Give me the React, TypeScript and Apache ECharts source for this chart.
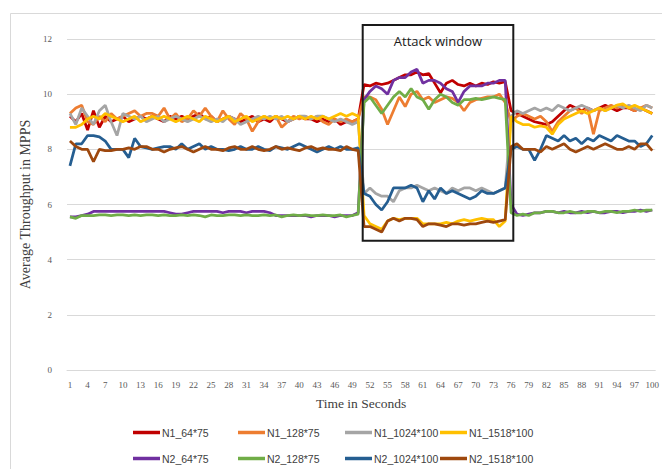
import React, { useEffect, useRef } from "react";
import * as echarts from "echarts";

const categories: string[] = Array.from({ length: 100 }, (_, i) => String(i + 1));

const yTicks = { min: 0, max: 12, interval: 2 };

const seriesNames = [
  "N1_64*75",
  "N1_128*75",
  "N1_1024*100",
  "N1_1518*100",
  "N2_64*75",
  "N2_128*75",
  "N2_1024*100",
  "N2_1518*100",
];

const seriesColors = [
  "#C00000",
  "#ED7D31",
  "#A5A5A5",
  "#FFC000",
  "#7030A0",
  "#70AD47",
  "#255E91",
  "#9E480E",
];

const n1_64 = [
  9.2, 9.0, 9.3, 8.7, 9.4, 8.8, 9.2, 9.0, 9.1, 9.2,
  9.0, 9.1, 9.2, 9.1, 9.2, 9.1, 9.0, 9.2, 9.1, 9.2,
  9.1, 9.2, 9.3, 9.1, 9.2, 9.0, 9.1, 9.2, 9.1, 9.0,
  9.1, 9.2, 9.0, 9.1, 9.0, 9.2, 9.1, 9.0, 9.1, 9.2,
  9.1, 9.1, 9.0, 9.1, 9.0, 9.1, 8.9, 9.0, 9.0, 9.1,
  10.35, 10.3, 10.4, 10.35, 10.4, 10.5, 10.6, 10.7, 10.7, 10.8,
  10.7, 10.75, 10.4, 10.05, 10.4, 10.5, 10.35, 10.3, 10.4, 10.3,
  10.4, 10.35, 10.45, 10.4, 10.45, 9.4, 9.3, 9.2, 9.1, 9.0,
  8.95, 8.9, 9.0, 9.2, 9.4, 9.6, 9.5, 9.4, 9.5, 9.4,
  9.5, 9.6, 9.5, 9.4, 9.5, 9.5, 9.4, 9.5, 9.4, 9.3,
];

const n1_128 = [
  9.3, 9.5, 9.6, 9.0, 8.9, 9.2, 9.0, 9.3, 9.1, 9.2,
  9.3, 9.4, 9.2, 9.3, 9.3, 9.2, 9.5, 9.1, 9.3, 9.0,
  9.1, 9.4, 9.2, 9.5, 9.2, 9.0, 9.4, 9.1, 8.9, 9.3,
  9.1, 8.65, 9.0, 9.2, 9.1, 9.2, 8.8, 9.0, 9.2, 9.1,
  9.2, 9.1, 9.2, 9.0, 8.9, 9.1, 9.0, 9.1, 9.0, 9.1,
  9.9, 9.9, 9.8, 9.45, 8.9, 9.4, 9.9, 9.55, 10.0, 10.1,
  9.8, 9.9, 9.7, 9.8, 9.9, 9.85, 9.7, 9.4, 9.7, 9.8,
  9.85, 9.9, 9.9, 10.0, 9.7, 9.0, 9.2, 9.3, 9.2, 9.1,
  9.2, 9.0, 8.65, 9.0, 9.2, 9.4, 9.5, 9.3, 9.5, 8.55,
  9.4, 9.5, 9.6, 9.5, 9.6, 9.5, 9.4, 9.5, 9.6, 9.5,
];

const n1_1024 = [
  9.3, 8.9, 9.5, 9.2, 8.9, 9.4, 9.6, 9.0, 8.5, 9.3,
  9.2, 9.1, 9.2, 9.0, 9.1, 9.2, 9.0, 9.1, 9.2, 9.1,
  9.0, 9.1, 9.2, 9.1, 9.0, 9.1, 9.0, 9.2, 9.1, 8.9,
  9.0, 9.1, 9.2, 9.1, 9.2, 9.1, 9.2, 9.0, 9.1, 9.2,
  9.2, 9.1, 9.2, 9.2, 9.1, 9.0, 9.1, 9.0, 8.9, 9.0,
  6.4, 6.6, 6.4, 6.3, 6.3, 6.1, 6.5, 6.6, 6.6, 6.7,
  6.6, 6.5, 6.6, 6.5, 6.4, 6.6, 6.5, 6.6, 6.6, 6.5,
  6.6, 6.5, 6.4, 6.5, 6.6, 9.2, 9.4, 9.3, 9.4, 9.5,
  9.4, 9.5, 9.4, 9.6, 9.5, 9.4, 9.5, 9.6, 9.5, 9.4,
  9.5, 9.4, 9.5, 9.6, 9.5, 9.6, 9.5, 9.4, 9.6, 9.5,
];

const n1_1518 = [
  8.8, 8.8, 8.9, 9.1, 9.2, 9.1, 9.3, 9.2, 9.1, 9.0,
  9.1, 9.2, 9.0, 9.1, 9.2, 9.1, 9.2, 9.1, 9.0, 9.1,
  9.2, 9.1, 9.0, 9.2, 9.1, 9.0, 9.1, 9.2, 9.0, 9.1,
  9.2, 9.0, 9.1, 9.2, 9.1, 9.2, 9.1, 9.2, 9.1, 9.2,
  9.1, 9.2, 9.1, 9.2, 9.1, 9.2, 9.3, 9.2, 9.3, 9.2,
  5.6, 5.3, 5.2, 5.1, 5.4, 5.5, 5.45, 5.5, 5.5, 5.5,
  5.3, 5.3, 5.3, 5.3, 5.35, 5.3, 5.4, 5.45, 5.4, 5.45,
  5.5, 5.45, 5.45, 5.2, 5.4, 9.2, 9.0, 8.9, 8.9, 8.8,
  8.85, 8.8, 8.55, 8.9, 9.1, 9.2, 9.3, 9.4, 9.3, 9.4,
  9.5, 9.4, 9.5, 9.6, 9.65, 9.5, 9.6, 9.5, 9.4, 9.3,
];

const n2_64 = [
  5.55, 5.55, 5.6, 5.65, 5.75, 5.75, 5.75, 5.75, 5.75, 5.75,
  5.75, 5.75, 5.75, 5.75, 5.75, 5.75, 5.75, 5.7, 5.65, 5.65,
  5.7, 5.75, 5.75, 5.75, 5.75, 5.75, 5.7, 5.75, 5.75, 5.75,
  5.7, 5.75, 5.75, 5.75, 5.7, 5.6, 5.6, 5.6, 5.6, 5.6,
  5.6, 5.55, 5.6, 5.6, 5.6, 5.55, 5.6, 5.6, 5.6, 5.7,
  9.8, 10.1, 10.3, 10.2, 10.0, 10.5, 10.6, 10.6, 10.8, 10.9,
  10.4, 10.5, 10.5, 10.4, 10.2, 10.1, 9.7, 10.1, 10.3, 10.3,
  10.3, 10.4, 10.4, 10.5, 10.5, 6.0, 5.65, 5.6, 5.65, 5.7,
  5.7, 5.75, 5.75, 5.7, 5.75, 5.7, 5.7, 5.75, 5.7, 5.75,
  5.7, 5.7, 5.75, 5.75, 5.7, 5.75, 5.75, 5.8, 5.75, 5.8,
];

const n2_128 = [
  5.55, 5.5, 5.6, 5.6, 5.6, 5.62, 5.62, 5.6, 5.62, 5.62,
  5.6, 5.62, 5.6, 5.62, 5.62, 5.6, 5.62, 5.6, 5.6, 5.62,
  5.6, 5.62, 5.6, 5.55, 5.62, 5.6, 5.6, 5.62, 5.62, 5.6,
  5.62, 5.6, 5.6, 5.62, 5.6, 5.62, 5.55, 5.6, 5.62, 5.6,
  5.62, 5.6, 5.6, 5.62, 5.6, 5.6, 5.62, 5.55, 5.6, 5.65,
  9.7, 9.9, 9.6, 9.3, 9.6, 9.9, 10.1, 9.9, 10.2, 9.9,
  9.8, 9.45, 9.8, 10.0, 9.9, 9.7, 9.6, 9.8, 9.8, 9.85,
  9.8, 9.85, 9.9, 9.85, 9.8, 5.7, 5.6, 5.65, 5.6, 5.7,
  5.7, 5.75, 5.75, 5.7, 5.7, 5.75, 5.7, 5.7, 5.75, 5.75,
  5.7, 5.75, 5.75, 5.7, 5.75, 5.75, 5.8, 5.75, 5.8, 5.8,
];

const n2_1024 = [
  7.4, 8.2, 8.2, 8.5, 8.5, 8.45, 8.3, 8.0, 8.0, 8.0,
  7.7, 8.4, 8.1, 8.05, 8.0, 8.05, 8.1, 8.1, 8.0, 8.2,
  8.0, 8.1, 8.2, 8.0, 8.1, 8.0, 8.0, 7.95, 8.0, 8.1,
  8.0, 8.0, 8.1, 8.0, 7.95, 8.1, 8.05, 8.0, 8.1, 8.2,
  8.1, 8.0, 7.9, 8.0, 8.1, 8.0, 8.1, 8.0, 8.0, 8.05,
  6.4, 6.3, 6.0, 5.8, 6.1, 6.6, 6.6, 6.6, 6.7, 6.6,
  6.1, 6.5, 6.2, 6.6, 6.4, 6.5, 6.4, 6.3, 6.2, 6.3,
  6.5, 6.4, 6.4, 6.5, 6.6, 8.0, 8.1, 8.0, 8.0, 7.6,
  8.0, 8.5, 8.4, 8.3, 8.5, 8.3, 8.4, 8.2, 8.4, 8.3,
  8.5, 8.4, 8.3, 8.5, 8.4, 8.3, 8.3, 8.1, 8.2, 8.5,
];

const n2_1518 = [
  8.3, 8.1, 8.0, 8.0, 7.55, 8.0, 7.95, 7.95, 8.0, 8.0,
  8.05, 8.0, 8.1, 8.1, 8.0, 8.0, 7.9, 8.0, 8.05, 8.1,
  8.0, 7.9, 8.0, 8.1, 8.0, 8.0, 7.95, 8.05, 8.1, 8.0,
  8.0, 8.1, 8.0, 7.95, 8.0, 8.1, 8.0, 8.05, 8.0, 7.95,
  8.05, 8.1, 8.0, 8.05, 8.0, 8.0, 7.95, 8.1, 8.0, 7.95,
  5.2, 5.2, 5.1, 5.0, 5.4, 5.5, 5.4, 5.5, 5.5, 5.45,
  5.2, 5.3, 5.3, 5.25, 5.2, 5.3, 5.3, 5.25, 5.3, 5.3,
  5.35, 5.4, 5.35, 5.4, 5.45, 8.1, 8.2, 8.0, 8.0, 8.0,
  7.9, 8.1, 8.0, 8.1, 8.2, 8.0, 7.9, 8.0, 8.1, 8.0,
  8.1, 8.2, 8.1, 8.0, 8.0, 8.1, 8.0, 8.2, 8.2, 7.95,
];

const seriesData = [n1_64, n1_128, n1_1024, n1_1518, n2_64, n2_128, n2_1024, n2_1518];

const legendLefts = [133, 238, 345, 440];
const legendTops = [427, 453];

export default function App() {
  const ref = useRef<HTMLDivElement>(null);

  useEffect(() => {
    if (!ref.current) return;
    const chart = echarts.init(ref.current, undefined, { renderer: "svg" });

    const legends = seriesNames.map((name, i) => ({
      show: true,
      left: legendLefts[i % 4],
      top: legendTops[Math.floor(i / 4)],
      orient: "horizontal",
      icon: "rect",
      itemWidth: 27,
      itemHeight: 3.5,
      itemGap: 0,
      padding: 0,
      selectedMode: false,
      data: [name],
      textStyle: {
        color: "#404040",
        fontSize: 10.5,
        fontFamily: "Liberation Sans, Arial, sans-serif",
        padding: [0, 0, 0, -3],
      },
    }));

    chart.setOption({
      animation: false,
      backgroundColor: "#ffffff",
      color: seriesColors,
      grid: { left: 67, right: 4, top: 39, bottom: 99, containLabel: false },
      legend: legends,
      xAxis: {
        type: "category",
        data: categories,
        boundaryGap: true,
        name: "Time in Seconds",
        nameLocation: "middle",
        nameGap: 26,
        nameTextStyle: {
          color: "#404040",
          fontSize: 13.5,
          fontFamily: "Liberation Serif, Times New Roman, serif",
        },
        axisLine: { show: true, lineStyle: { color: "#d9d9d9", width: 1 } },
        axisTick: { show: false },
        axisLabel: {
          interval: 2,
          color: "#595959",
          fontSize: 9,
          margin: 10,
          fontFamily: "Liberation Serif, Times New Roman, serif",
          hideOverlap: false,
        },
        splitLine: { show: false },
      },
      yAxis: {
        type: "value",
        min: yTicks.min,
        max: yTicks.max,
        interval: yTicks.interval,
        name: "Average Throughput in MPPS",
        nameLocation: "middle",
        nameGap: 30,
        nameTextStyle: {
          color: "#404040",
          fontSize: 14,
          fontFamily: "Liberation Serif, Times New Roman, serif",
        },
        axisLine: { show: false },
        axisTick: { show: false },
        axisLabel: {
          color: "#595959",
          fontSize: 9,
          margin: 15,
          fontFamily: "Liberation Serif, Times New Roman, serif",
        },
        splitLine: { show: true, lineStyle: { color: "#d9d9d9", width: 1 } },
      },
      series: seriesNames.map((name, i) => ({
        name,
        type: "line",
        data: seriesData[i],
        symbol: "none",
        showSymbol: false,
        smooth: false,
        lineStyle: { width: 2.75, color: seriesColors[i] },
        itemStyle: { color: seriesColors[i] },
        emphasis: { disabled: true },
        z: 2,
      })),
      graphic: [
        {
          type: "rect",
          left: 8,
          top: 11,
          shape: { x: 0, y: 0, width: 700, height: 500 },
          style: { fill: "none", stroke: "#d9d9d9", lineWidth: 1 },
          silent: true,
          z: 0,
        },
        {
          type: "rect",
          shape: { x: 362.7, y: 25, width: 150.6, height: 215.7 },
          style: { fill: "none", stroke: "#1a1a1a", lineWidth: 2 },
          silent: true,
          z: 100,
        },
        {
          type: "text",
          x: 438,
          y: 41,
          style: {
            text: "Attack window",
            fill: "#1a1a1a",
            fontSize: 13,
            fontFamily: "Open Sans, Noto Sans, sans-serif",
            textAlign: "center",
            textVerticalAlign: "middle",
          },
          silent: true,
          z: 100,
        },
      ],
    });

    return () => chart.dispose();
  }, []);

  return (
    <div
      ref={ref}
      style={{ position: "fixed", left: 0, top: 0, width: 662, height: 469 }}
    />
  );
}
